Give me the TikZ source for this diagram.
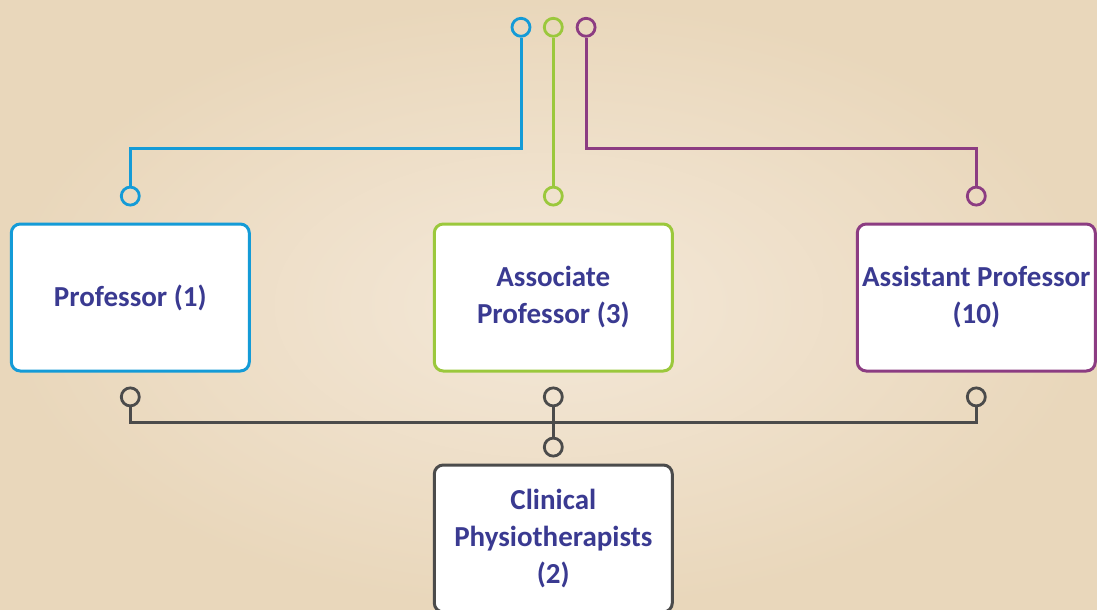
\documentclass[tikz,border=0pt]{standalone}
\usepackage{fontspec}
\setmainfont{Carlito}
\usetikzlibrary{positioning}
\definecolor{cblue}{RGB}{20,155,215}
\definecolor{cgreen}{RGB}{155,200,60}
\definecolor{cpurple}{RGB}{140,60,130}
\definecolor{cgray}{RGB}{75,75,75}
\definecolor{ctext}{RGB}{58,58,145}
\definecolor{bgin}{RGB}{244,232,216}
\definecolor{bgout}{RGB}{233,215,187}

\begin{document}
\begin{tikzpicture}[x=1pt, y=1pt,
    box/.style={draw, line width=3pt, rounded corners=9pt, fill=white, minimum width=238pt, minimum height=147pt, align=center, text=ctext, font=\fontsize{29}{37}\selectfont\bfseries},
    knob/.style={circle, draw=#1, line width=2.8pt, minimum size=18pt, inner sep=0pt},
    link/.style={line width=3pt, draw=#1}]
    \clip (0,0) rectangle (1097,-610);
    \shade[inner color=bgin, outer color=bgout] (0,0) rectangle (1097,-610);
    % ranks
    \node[box, draw=cblue] (prof) at (130.3,-297.5) {Professor (1)};
    \node[box, draw=cgreen, right=182pt of prof] (assoc) {Associate\\Professor (3)};
    \node[box, draw=cpurple, right=182pt of assoc] (assist) {Assistant Professor\\(10)};
    \node[box, draw=cgray, below=91pt of assoc] (clin) {Clinical\\Physiotherapists\\(2)};
    % small rings
    \node[knob=cblue, above=16pt of prof] (tprof) {};
    \node[knob=cgreen, above=16pt of assoc] (tassoc) {};
    \node[knob=cpurple, above=16pt of assist] (tassist) {};
    \node[knob=cgreen, above=148pt of tassoc] (gtop) {};
    \node[knob=cblue, left=11.5pt of gtop] (btop) {};
    \node[knob=cpurple, right=12pt of gtop] (ptop) {};
    \node[knob=cgray, below=14pt of prof] (bprof) {};
    \node[knob=cgray, below=14pt of assoc] (bassoc) {};
    \node[knob=cgray, below=14pt of assist] (bassist) {};
    \node[knob=cgray, above=6pt of clin] (tclin) {};
    % wires
    \draw[link=cblue] (btop) |- (tprof |- 0,-148) -- (tprof);
    \draw[link=cgreen] (gtop) -- (tassoc);
    \draw[link=cpurple] (ptop) |- (tassist |- 0,-148) -- (tassist);
    \draw[link=cgray] (bprof) |- (bassist |- 0,-422) -- (bassist);
    \draw[link=cgray] (bassoc) -- (tclin);
\end{tikzpicture}
\end{document}
